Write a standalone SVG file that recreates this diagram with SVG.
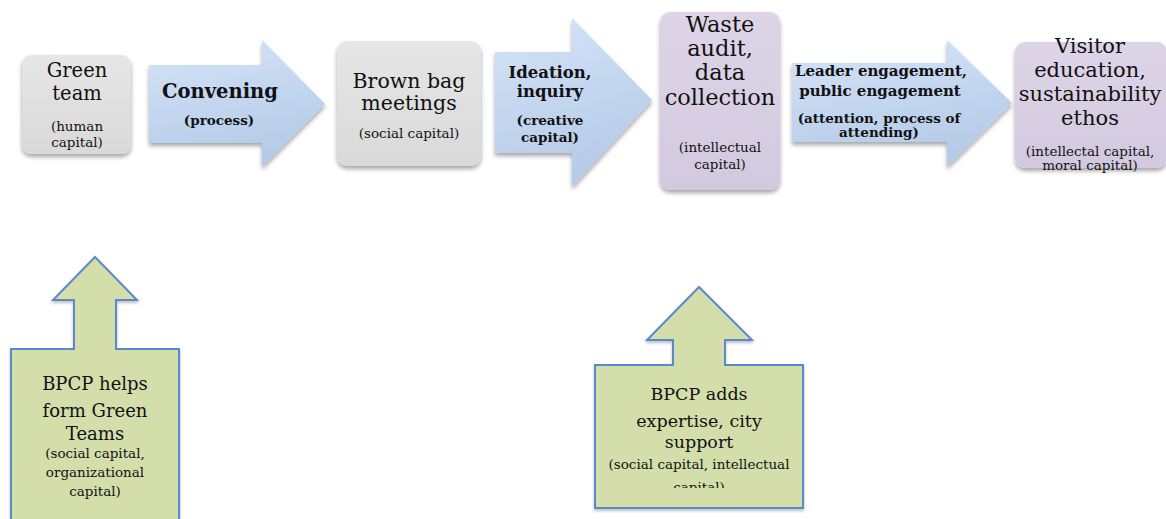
<svg xmlns="http://www.w3.org/2000/svg" width="1166" height="519" viewBox="0 0 1166 519">
<style>
.t{font-family:"DejaVu Serif","Liberation Serif",serif;fill:#111;text-anchor:middle}
.big{font-size:19.5px}
.sm{font-size:13.5px}
.b{font-weight:bold}
.bsm{font-size:13.5px;font-weight:bold}
.gr{fill:#d3deaa;stroke:#5a8acb;stroke-width:2;stroke-linejoin:miter}
</style>
<defs>
<linearGradient id="gGray" x1="0" y1="0" x2="0" y2="1"><stop offset="0" stop-color="#e6e6e6"/><stop offset="1" stop-color="#d9d9d9"/></linearGradient>
<linearGradient id="gPurp" x1="0" y1="0" x2="0" y2="1"><stop offset="0" stop-color="#ddd5e7"/><stop offset="1" stop-color="#d3c9df"/></linearGradient>
<linearGradient id="gBlue" x1="0" y1="0" x2="0.3" y2="1"><stop offset="0" stop-color="#d5e4f8"/><stop offset="1" stop-color="#b6cbe8"/></linearGradient>
<filter id="sh" x="-10%" y="-10%" width="125%" height="130%"><feDropShadow dx="0" dy="3" stdDeviation="2.2" flood-color="#000" flood-opacity="0.35"/></filter>
<filter id="sh2" x="-10%" y="-10%" width="125%" height="130%"><feDropShadow dx="0" dy="2" stdDeviation="1.5" flood-color="#000" flood-opacity="0.25"/></filter>
<clipPath id="clip2"><rect x="596" y="366" width="206" height="122"/></clipPath>
</defs>

<g id="connectors">
<g id="convening">
<polygon points="149,65 262,65 262,40 325,104 262,167 262,143 149,143" fill="url(#gBlue)" filter="url(#sh)"/>
<text class="t b" x="220" y="98" style="font-size:19.5px">Convening</text>
<text class="t bsm" x="219" y="125">(process)</text>
</g>
<g id="ideation">
<polygon points="495,52 572,52 572,18 652,100 572,187 572,153 495,153" fill="url(#gBlue)" filter="url(#sh)"/>
<text class="t b" x="550" y="78" style="font-size:16.5px">Ideation,</text>
<text class="t b" x="550" y="97" style="font-size:16.5px">inquiry</text>
<text class="t bsm" x="550" y="125">(creative</text>
<text class="t bsm" x="550" y="142">capital)</text>
</g>
<g id="leader">
<polygon points="792,63 947,63 947,40 1012,103 947,167 947,142 792,142" fill="url(#gBlue)" filter="url(#sh)"/>
<text class="t b" x="881" y="76" style="font-size:15px">Leader engagement,</text>
<text class="t b" x="880" y="96" style="font-size:15px">public  engagement</text>
<text class="t bsm" x="879" y="123">(attention, process of</text>
<text class="t bsm" x="879" y="137">attending)</text>
</g>
</g>

<g id="green-team">
<rect x="22" y="55" width="109" height="99" rx="9" fill="url(#gGray)" filter="url(#sh)"/>
<text class="t big" x="77" y="77">Green</text>
<text class="t big" x="77" y="100">team</text>
<text class="t sm" x="77" y="131">(human</text>
<text class="t sm" x="77" y="147">capital)</text>
</g>

<g id="brown-bag">
<rect x="337" y="41" width="144" height="125" rx="10" fill="url(#gGray)" filter="url(#sh)"/>
<text class="t" x="409" y="88" style="font-size:20.5px">Brown bag</text>
<text class="t" x="409" y="110" style="font-size:20.5px">meetings</text>
<text class="t sm" x="409" y="138">(social capital)</text>
</g>

<g id="waste-audit">
<rect x="660" y="12" width="120" height="178" rx="10" fill="url(#gPurp)" filter="url(#sh)"/>
<text class="t" x="720" y="32" style="font-size:22.5px">Waste</text>
<text class="t" x="720" y="56" style="font-size:22.5px">audit,</text>
<text class="t" x="720" y="80" style="font-size:22.5px">data</text>
<text class="t" x="720" y="105" style="font-size:22.5px">collection</text>
<text class="t sm" x="720" y="152">(intellectual</text>
<text class="t sm" x="720" y="169">capital)</text>
</g>

<g id="visitor">
<rect x="1015" y="42" width="152" height="126" rx="10" fill="url(#gPurp)" filter="url(#sh)"/>
<text class="t" x="1090" y="53" style="font-size:21px">Visitor</text>
<text class="t" x="1090" y="77" style="font-size:21px">education,</text>
<text class="t" x="1090" y="101" style="font-size:21px">sustainability</text>
<text class="t" x="1090" y="125" style="font-size:21px">ethos</text>
<text class="t sm" x="1090" y="156">(intellectal capital,</text>
<text class="t sm" x="1090" y="170">moral capital)</text>
</g>

<g id="bpcp-green-teams">
<polygon class="gr" points="95,257 137,300 116,300 116,349 179,349 179,530 11,530 11,349 74,349 74,300 53,300" filter="url(#sh2)"/>
<text class="t" x="95" y="390" style="font-size:18px">BPCP helps</text>
<text class="t" x="95" y="417" style="font-size:18px">form Green</text>
<text class="t" x="95" y="440" style="font-size:18px">Teams</text>
<text class="t sm" x="95" y="458">(social capital,</text>
<text class="t sm" x="95" y="477">organizational</text>
<text class="t sm" x="95" y="496">capital)</text>
</g>

<g id="bpcp-expertise">
<polygon class="gr" points="699,287 752,340 725,340 725,365 803,365 803,508 595,508 595,365 673,365 673,340 647,340" filter="url(#sh2)"/>
<text class="t" x="699" y="400" style="font-size:17.5px">BPCP adds</text>
<text class="t" x="699" y="427" style="font-size:17.5px">expertise, city</text>
<text class="t" x="699" y="448" style="font-size:17.5px">support</text>
<g clip-path="url(#clip2)">
<text class="t sm" x="699" y="469">(social capital, intellectual</text>
<text class="t sm" x="699" y="492">capital)</text>
</g>
</g>
</svg>
